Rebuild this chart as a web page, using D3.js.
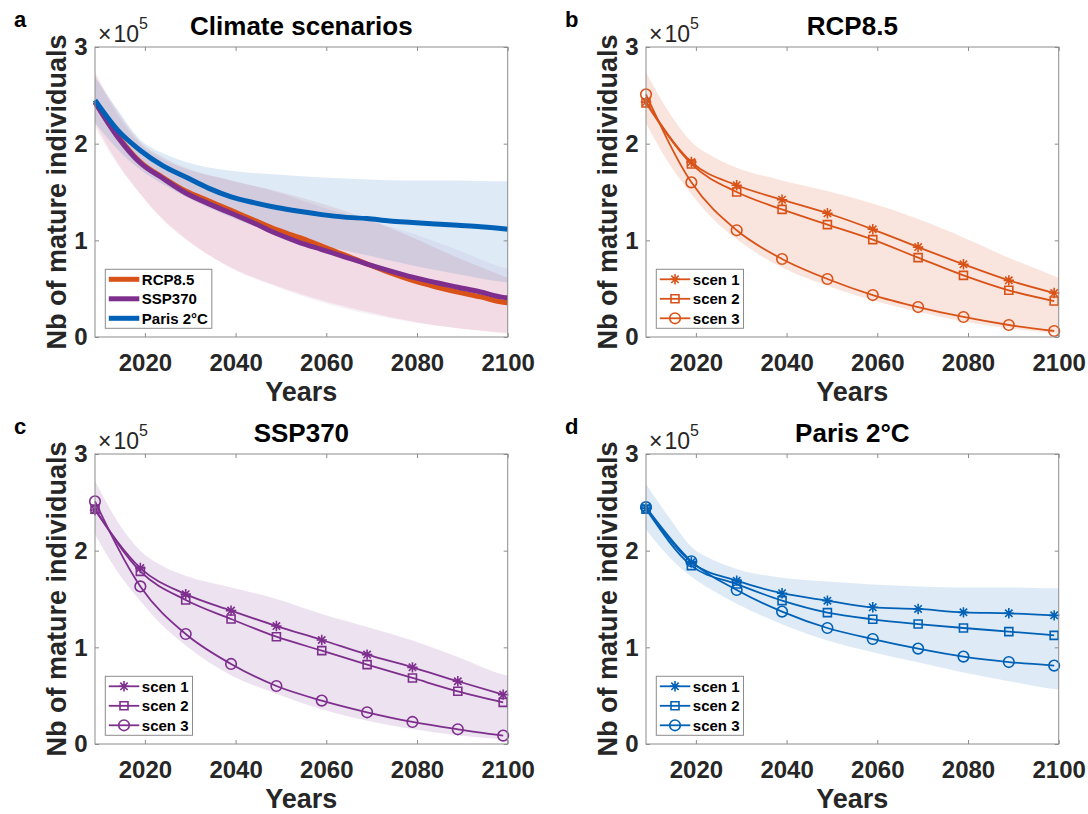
<!DOCTYPE html>
<html><head><meta charset="utf-8">
<script src="https://cdn.jsdelivr.net/npm/d3@7"></script>
<style>
body{margin:0;background:#fff;}
svg{display:block;font-family:"Liberation Sans",Arial,Helvetica,sans-serif;}
</style></head><body>
<svg id="chart" width="1088" height="814"></svg>
<script>
// ---------------- DATA (values in units of 10^5 individuals) ----------------
const xTicks = [2020, 2040, 2060, 2080, 2100];
const yTicks = [0, 1, 2, 3];

// Scenario runs, marked every 10 years
const scenYears = [2009, 2019, 2029, 2039, 2049, 2059, 2069, 2079, 2089, 2099];
const rcpScen1 = [2.43, 1.81, 1.57, 1.42, 1.28, 1.114, 0.93, 0.752, 0.586, 0.455];
const rcpScen2 = [2.42, 1.79, 1.50, 1.32, 1.163, 1.007, 0.821, 0.638, 0.483, 0.372];
const rcpScen3 = [2.51, 1.60, 1.104, 0.807, 0.60, 0.434, 0.31, 0.207, 0.124, 0.062];
const sspScen1 = [2.42, 1.82, 1.55, 1.38, 1.22, 1.076, 0.925, 0.793, 0.649, 0.511];
const sspScen2 = [2.43, 1.786, 1.49, 1.293, 1.11, 0.966, 0.821, 0.683, 0.545, 0.431];
const sspScen3 = [2.51, 1.63, 1.138, 0.828, 0.60, 0.449, 0.328, 0.228, 0.152, 0.087];
const parisScen1 = [2.44, 1.88, 1.69, 1.56, 1.483, 1.414, 1.397, 1.362, 1.352, 1.331];
const parisScen2 = [2.43, 1.845, 1.655, 1.483, 1.359, 1.29, 1.241, 1.20, 1.163, 1.124];
const parisScen3 = [2.45, 1.89, 1.593, 1.37, 1.20, 1.086, 0.987, 0.904, 0.848, 0.811];

// Climate-scenario mean trajectories (panel a)
const meanYears = [2009, 2014, 2019, 2024, 2029, 2034, 2039, 2044, 2049, 2054, 2059, 2064, 2069, 2074, 2079, 2084, 2089, 2094, 2099, 2100];
const rcpMean = [2.43, 2.08, 1.81, 1.65, 1.51, 1.41, 1.31, 1.21, 1.11, 1.03, 0.94, 0.85, 0.755, 0.665, 0.585, 0.52, 0.465, 0.415, 0.36, 0.355];
const sspMean = [2.43, 2.07, 1.80, 1.64, 1.49, 1.38, 1.28, 1.18, 1.07, 0.98, 0.905, 0.83, 0.755, 0.685, 0.62, 0.565, 0.515, 0.465, 0.41, 0.405];
const parisMean = [2.45, 2.14, 1.93, 1.77, 1.655, 1.54, 1.45, 1.39, 1.34, 1.30, 1.266, 1.24, 1.225, 1.20, 1.185, 1.17, 1.155, 1.14, 1.12, 1.115];

// Uncertainty envelopes
const bandYears = [2009, 2014, 2019, 2024, 2029, 2039, 2049, 2059, 2069, 2079, 2089, 2099, 2100];
const rcpHigh = [2.74, 2.33, 2.02, 1.86, 1.75, 1.62, 1.51, 1.38, 1.22, 1.03, 0.82, 0.63, 0.61];
const rcpLow = [2.21, 1.80, 1.48, 1.21, 1.01, 0.72, 0.53, 0.38, 0.26, 0.16, 0.09, 0.04, 0.035];
const sspHigh = [2.72, 2.30, 2.00, 1.84, 1.74, 1.62, 1.50, 1.345, 1.21, 1.07, 0.90, 0.72, 0.71];
const sspLow = [2.17, 1.78, 1.48, 1.22, 1.02, 0.71, 0.52, 0.36, 0.24, 0.155, 0.09, 0.05, 0.048];
const parisHigh = [2.69, 2.35, 2.04, 1.90, 1.81, 1.72, 1.68, 1.65, 1.63, 1.62, 1.62, 1.61, 1.61];
const parisLow = [2.22, 1.94, 1.73, 1.58, 1.45, 1.24, 1.07, 0.95, 0.845, 0.74, 0.65, 0.57, 0.565];

const climateNames = ["RCP8.5", "SSP370", "Paris 2°C"];
const scenNames = ["scen 1", "scen 2", "scen 3"];

// ---------------- STYLE / LAYOUT ----------------
const COL = { rcp: "#D95319", ssp: "#7E2F8E", paris: "#0061B6" };
const BAND_A = { rcp: ["#E06070", 0.14], ssp: ["#7E2F8E", 0.07], paris: ["#0061B6", 0.13] };
const FONT = '"Liberation Sans", Arial, Helvetica, sans-serif';
const AXC = "#8c8c8c";
const pw = 412.7, ph = 290;

const svg = d3.select("#chart");
const x = d3.scaleLinear().domain([2009, 2100]).range([0, pw]);
const y = d3.scaleLinear().domain([0, 3]).range([ph, 0]);

const zip = (xs, ys) => xs.map((v, i) => [v, ys[i]]);
const band = (lo, hi) => bandYears.map((v, i) => [v, lo[i], hi[i]]);

const areaGen = d3.area().x(d => x(d[0])).y0(d => y(d[1])).y1(d => y(d[2])).curve(d3.curveMonotoneX);
const lineGen = d3.line().x(d => x(d[0])).y(d => y(d[1])).curve(d3.curveMonotoneX);

function starPath(r) {
  const d = r * 0.7071;
  return `M${-r},0L${r},0M0,${-r}L0,${r}M${-d},${-d}L${d},${d}M${-d},${d}L${d},${-d}`;
}
function markerPath(type) {
  if (type === "star") return starPath(5.2);
  if (type === "square") return d3.symbol(d3.symbolSquare, 64)();
  return d3.symbol(d3.symbolCircle, Math.PI * 5.3 * 5.3)();
}

function panel(left, top, letter, title) {
  const g = svg.append("g").attr("transform", `translate(${left},${top})`);
  g.append("rect").attr("width", pw).attr("height", ph).attr("fill", "#fff");
  const plot = g.append("g");
  // axes
  const ax = g.append("g");
  ax.append("g").attr("transform", `translate(0,${ph})`)
    .call(d3.axisBottom(x).tickValues(xTicks).tickFormat(d3.format("d")).tickSizeInner(-4).tickSizeOuter(0).tickPadding(16.5));
  ax.append("g")
    .call(d3.axisTop(x).tickValues(xTicks).tickFormat(() => "").tickSizeInner(-4).tickSizeOuter(0));
  ax.append("g")
    .call(d3.axisLeft(y).tickValues(yTicks).tickFormat(d3.format("d")).tickSizeInner(-4).tickSizeOuter(0).tickPadding(7.5));
  ax.append("g").attr("transform", `translate(${pw},0)`)
    .call(d3.axisRight(y).tickValues(yTicks).tickFormat(() => "").tickSizeInner(-4).tickSizeOuter(0));
  ax.selectAll(".domain").remove();
  ax.selectAll(".tick line").attr("stroke", AXC).attr("stroke-width", 1);
  ax.selectAll(".tick text").attr("fill", "#262626")
    .style("font-size", "24px").style("font-weight", "bold").style("font-family", FONT);
  g.append("rect").attr("width", pw).attr("height", ph)
    .attr("fill", "none").attr("stroke", AXC).attr("stroke-width", 1);

  // labels
  g.append("text").attr("x", pw / 2).attr("y", -12).attr("text-anchor", "middle")
    .style("font-size", "26px").style("font-weight", "bold").attr("fill", "#000").text(title);
  g.append("text").attr("x", pw / 2).attr("y", ph + 64).attr("text-anchor", "middle")
    .style("font-size", "27px").style("font-weight", "bold").attr("fill", "#262626").text("Years");
  g.append("text").attr("transform", `translate(-29,${ph / 2}) rotate(-90)`).attr("text-anchor", "middle")
    .style("font-size", "27px").style("font-weight", "bold").attr("fill", "#262626").text("Nb of mature individuals");
  g.append("text").attr("x", -81).attr("y", -20)
    .style("font-size", "22px").style("font-weight", "bold").attr("fill", "#000").text(letter);
  const ex = g.append("text").attr("x", 3).attr("y", -5.5).attr("fill", "#262626").style("font-size", "23px");
  ex.append("tspan").text("×");
  ex.append("tspan").attr("dx", 2).text("10");
  ex.append("tspan").attr("dy", -13).style("font-size", "16px").text("5");
  return { g, plot };
}

function legend(g, items) {
  const lg = g.append("g").attr("transform", `translate(10.3,${ph - 67.7})`);
  const box = lg.append("rect").attr("height", 59).attr("fill", "#fff").attr("stroke", AXC).attr("stroke-width", 1);
  let maxW = 0;
  items.forEach((it, i) => {
    const cy = 10 + i * 19.5;
    lg.append("line").attr("x1", 3.5).attr("x2", 34).attr("y1", cy).attr("y2", cy)
      .attr("stroke", it.color).attr("stroke-width", it.lw);
    if (it.marker) {
      lg.append("path").attr("d", markerPath(it.marker)).attr("transform", `translate(18.7,${cy})`)
        .attr("fill", "none").attr("stroke", it.color).attr("stroke-width", 1.6);
    }
    const t = lg.append("text").attr("x", 36.5).attr("y", cy).attr("dy", "0.36em")
      .style("font-size", "15px").style("font-weight", "bold").attr("fill", "#000").text(it.label);
    maxW = Math.max(maxW, t.node().getComputedTextLength());
  });
  box.attr("width", 36.5 + maxW + 4);
}

// ---------------- PANEL a ----------------
{
  const { g, plot } = panel(95, 47, "a", "Climate scenarios");
  const bands = [[rcpLow, rcpHigh, BAND_A.rcp], [sspLow, sspHigh, BAND_A.ssp], [parisLow, parisHigh, BAND_A.paris]];
  bands.forEach(([lo, hi, st]) => plot.append("path").attr("d", areaGen(band(lo, hi)))
    .attr("fill", st[0]).attr("fill-opacity", st[1]));
  const means = [[rcpMean, COL.rcp], [sspMean, COL.ssp], [parisMean, COL.paris]];
  means.forEach(([v, c]) => plot.append("path").attr("d", lineGen(zip(meanYears, v)))
    .attr("fill", "none").attr("stroke", c).attr("stroke-width", 5).attr("stroke-linejoin", "round"));
  legend(g, climateNames.map((n, i) => ({ label: n, color: [COL.rcp, COL.ssp, COL.paris][i], lw: 5 })));
}

// ---------------- PANELS b, c, d ----------------
const markers = ["star", "square", "circle"];
function scenPanel(left, top, letter, title, color, lo, hi, s1, s2, s3, bandAlpha) {
  const { g, plot } = panel(left, top, letter, title);
  plot.append("path").attr("d", areaGen(band(lo, hi))).attr("fill", color).attr("fill-opacity", bandAlpha);
  [s1, s2, s3].forEach((s, k) => {
    const pts = zip(scenYears, s);
    plot.append("path").attr("d", lineGen(pts)).attr("fill", "none")
      .attr("stroke", color).attr("stroke-width", 1.8);
    plot.selectAll(null).data(pts).enter().append("path")
      .attr("d", markerPath(markers[k]))
      .attr("transform", d => `translate(${x(d[0])},${y(d[1])})`)
      .attr("fill", "none").attr("stroke", color).attr("stroke-width", 1.6);
  });
  legend(g, scenNames.map((n, i) => ({ label: n, color, lw: 1.8, marker: markers[i] })));
}
scenPanel(646, 47, "b", "RCP8.5", COL.rcp, rcpLow, rcpHigh, rcpScen1, rcpScen2, rcpScen3, 0.15);
scenPanel(95, 454, "c", "SSP370", COL.ssp, sspLow, sspHigh, sspScen1, sspScen2, sspScen3, 0.14);
scenPanel(646, 454, "d", "Paris 2°C", COL.paris, parisLow, parisHigh, parisScen1, parisScen2, parisScen3, 0.13);
</script>
</body></html>
